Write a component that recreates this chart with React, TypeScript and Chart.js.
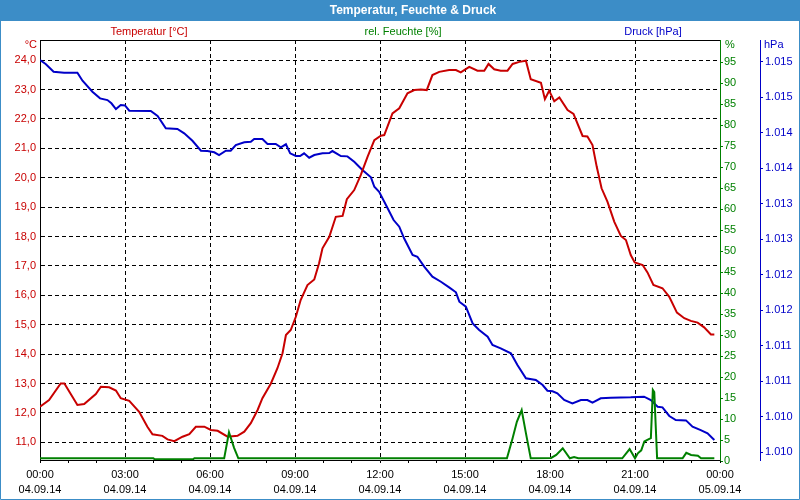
import { useEffect, useRef } from 'react';
import { Chart, registerables } from 'chart.js';

Chart.register(...registerables);

// ---------- data ----------
const tempHours = [0.00, 0.32, 0.73, 0.86, 1.32, 1.56, 1.97, 2.15, 2.44, 2.68, 2.85, 3.15, 3.50, 3.79, 3.97, 4.32, 4.50, 4.74, 5.03, 5.27, 5.50, 5.80, 6.03, 6.27, 6.62, 6.97, 7.21, 7.44, 7.68, 7.85, 8.15, 8.38, 8.56, 8.68, 8.85, 9.03, 9.20, 9.44, 9.68, 9.85, 9.97, 10.21, 10.44, 10.68, 10.83, 11.09, 11.32, 11.56, 11.80, 12.03, 12.15, 12.44, 12.68, 12.97, 13.21, 13.44, 13.65, 13.85, 14.09, 14.44, 14.68, 14.85, 15.15, 15.44, 15.68, 15.83, 16.03, 16.26, 16.50, 16.68, 16.92, 17.15, 17.32, 17.68, 17.82, 17.97, 18.15, 18.33, 18.62, 18.83, 19.15, 19.32, 19.50, 19.65, 19.82, 20.03, 20.27, 20.50, 20.68, 20.85, 20.99, 21.27, 21.44, 21.65, 21.97, 22.21, 22.48, 22.74, 22.97, 23.21, 23.44, 23.68, 23.80];
const tempValues = [12.21, 12.44, 13.00, 13.00, 12.27, 12.30, 12.64, 12.89, 12.87, 12.76, 12.50, 12.41, 12.04, 11.53, 11.27, 11.22, 11.10, 11.04, 11.19, 11.28, 11.53, 11.53, 11.42, 11.39, 11.19, 11.22, 11.36, 11.65, 12.10, 12.50, 13.00, 13.52, 14.03, 14.65, 14.82, 15.27, 15.84, 16.35, 16.54, 17.09, 17.60, 17.99, 18.67, 18.70, 19.27, 19.58, 20.09, 20.71, 21.28, 21.43, 21.45, 22.19, 22.36, 22.87, 22.98, 23.00, 22.98, 23.49, 23.60, 23.66, 23.66, 23.58, 23.77, 23.64, 23.64, 23.87, 23.69, 23.64, 23.64, 23.87, 23.94, 23.98, 23.35, 23.23, 22.67, 22.96, 22.60, 22.73, 22.30, 22.17, 21.42, 21.40, 21.11, 20.37, 19.64, 19.18, 18.50, 18.02, 17.88, 17.37, 17.12, 17.03, 16.78, 16.35, 16.24, 15.95, 15.41, 15.22, 15.13, 15.07, 14.91, 14.67, 14.67];

const pressureHours = [0.00, 0.20, 0.48, 0.85, 1.32, 1.50, 1.85, 2.12, 2.38, 2.52, 2.68, 2.85, 3.00, 3.15, 3.91, 4.15, 4.44, 4.85, 5.09, 5.38, 5.68, 5.91, 6.15, 6.32, 6.56, 6.73, 6.91, 7.21, 7.44, 7.56, 7.85, 8.03, 8.32, 8.50, 8.68, 8.83, 9.03, 9.18, 9.32, 9.50, 9.68, 9.97, 10.21, 10.32, 10.62, 10.85, 11.09, 11.38, 11.68, 11.80, 11.97, 12.21, 12.48, 12.68, 12.85, 13.15, 13.32, 13.56, 13.85, 14.15, 14.44, 14.68, 14.80, 15.03, 15.27, 15.50, 15.80, 15.97, 16.26, 16.62, 16.85, 17.15, 17.50, 17.74, 17.91, 18.09, 18.26, 18.50, 18.79, 19.09, 19.32, 19.50, 19.79, 20.15, 20.85, 21.32, 21.56, 21.80, 21.97, 22.21, 22.44, 22.80, 23.03, 23.32, 23.56, 23.80];
const pressureValues = [1.015024, 1.014968, 1.014859, 1.014845, 1.014845, 1.014732, 1.014577, 1.014484, 1.014460, 1.014414, 1.014334, 1.014390, 1.014385, 1.014310, 1.014306, 1.014235, 1.014062, 1.014052, 1.013991, 1.013887, 1.013746, 1.013742, 1.013724, 1.013686, 1.013746, 1.013746, 1.013827, 1.013865, 1.013873, 1.013911, 1.013911, 1.013841, 1.013841, 1.013794, 1.013837, 1.013710, 1.013672, 1.013672, 1.013710, 1.013648, 1.013686, 1.013710, 1.013714, 1.013742, 1.013672, 1.013667, 1.013592, 1.013475, 1.013372, 1.013239, 1.013169, 1.012982, 1.012770, 1.012676, 1.012513, 1.012277, 1.012253, 1.012113, 1.011972, 1.011901, 1.011822, 1.011752, 1.011620, 1.011549, 1.011315, 1.011221, 1.011127, 1.011010, 1.010963, 1.010893, 1.010728, 1.010541, 1.010517, 1.010446, 1.010366, 1.010357, 1.010329, 1.010235, 1.010188, 1.010235, 1.010235, 1.010197, 1.010259, 1.010268, 1.010273, 1.010282, 1.010235, 1.010141, 1.010132, 1.010010, 1.009953, 1.009948, 1.009859, 1.009812, 1.009766, 1.009672];

const humidityHours = [0.00, 4.00, 4.05, 5.40, 5.45, 6.50, 6.67, 6.85, 7.00, 16.48, 16.68, 16.83, 17.00, 17.15, 17.32, 18.04, 18.22, 18.45, 18.70, 18.85, 19.00, 20.55, 20.81, 21.00, 21.10, 21.22, 21.33, 21.47, 21.56, 21.63, 21.68, 21.78, 22.68, 22.81, 22.98, 23.22, 23.33, 23.80];
const humidityValues = [0.7, 0.7, 0.45, 0.45, 0.7, 0.7, 6.9, 3.2, 0.7, 0.7, 5.5, 9.4, 12.2, 6.7, 0.7, 0.8, 1.5, 3.1, 0.7, 1.0, 0.7, 0.7, 2.9, 0.7, 1.9, 2.6, 4.7, 5.2, 5.5, 17.0, 16.5, 0.7, 0.7, 2.0, 1.5, 1.3, 0.7, 0.7];

// ---------- ticks ----------
const xTickHours = [0, 1, 2, 3, 4, 5, 6, 7, 8, 9, 10, 11, 12, 13, 14, 15, 16, 17, 18, 19, 20, 21, 22, 23, 24];
const xLabelHours = [0, 3, 6, 9, 12, 15, 18, 21, 24];
const xLabelTimes = ['00:00', '03:00', '06:00', '09:00', '12:00', '15:00', '18:00', '21:00', '00:00'];
const xLabelDates = ['04.09.14', '04.09.14', '04.09.14', '04.09.14', '04.09.14', '04.09.14', '04.09.14', '04.09.14', '05.09.14'];
const tempTicks = [11, 12, 13, 14, 15, 16, 17, 18, 19, 20, 21, 22, 23, 24];
const humidityTicks = [0, 5, 10, 15, 20, 25, 30, 35, 40, 45, 50, 55, 60, 65, 70, 75, 80, 85, 90, 95];
const pressureTicks = [1.0095, 1.0100, 1.0105, 1.0110, 1.0115, 1.0120, 1.0125, 1.0130, 1.0135, 1.0140, 1.0145, 1.0150];
const pressureTickLabels = ['1.010', '1.010', '1.011', '1.011', '1.012', '1.012', '1.013', '1.013', '1.014', '1.014', '1.015', '1.015'];

const TITLE = 'Temperatur, Feuchte & Druck';
const HEAD_TEMP = 'Temperatur [°C]';
const HEAD_HUM = 'rel. Feuchte [%]';
const HEAD_PRES = 'Druck [hPa]';

const RED = '#c80000';
const GREEN = '#008000';
const BLUE = '#0000c8';
const BAR = '#3c8dc7';
const FONT = 'Liberation Sans';

const toPts = (hs: number[], vs: number[]) => hs.map((h, i) => ({ x: h, y: vs[i] }));

const decoPlugin = {
  id: 'deco',
  afterDraw(chart: any) {
    const ctx = chart.ctx as CanvasRenderingContext2D;
    const ca = chart.chartArea;
    ctx.save();
    ctx.strokeStyle = '#000';
    ctx.lineWidth = 1;
    ctx.beginPath();
    ctx.moveTo(ca.left, ca.top + 0.5);
    ctx.lineTo(ca.right, ca.top + 0.5);
    ctx.stroke();
    ctx.fillStyle = BAR;
    ctx.fillRect(0, 0, 800, 21);
    ctx.strokeStyle = BAR;
    ctx.beginPath();
    ctx.moveTo(0.5, 0);
    ctx.lineTo(0.5, 499.5);
    ctx.lineTo(799.5, 499.5);
    ctx.lineTo(799.5, 0);
    ctx.stroke();
    ctx.fillStyle = '#ffffff';
    ctx.font = `bold 12px "${FONT}"`;
    ctx.textAlign = 'center';
    ctx.textBaseline = 'middle';
    ctx.fillText(TITLE, 413, 10.5);
    ctx.font = `11px "${FONT}"`;
    ctx.fillStyle = RED;
    ctx.fillText(HEAD_TEMP, 149, 32);
    ctx.fillStyle = GREEN;
    ctx.fillText(HEAD_HUM, 403, 32);
    ctx.fillStyle = BLUE;
    ctx.fillText(HEAD_PRES, 653, 32);
    ctx.textAlign = 'right';
    ctx.fillStyle = RED;
    ctx.fillText('°C', 37, 45);
    ctx.textAlign = 'left';
    ctx.fillStyle = GREEN;
    ctx.fillText('%', 725, 45);
    ctx.fillStyle = BLUE;
    ctx.fillText('hPa', 764, 45);
    ctx.restore();
  },
};

export default function App() {
  const ref = useRef<HTMLCanvasElement | null>(null);

  useEffect(() => {
    if (!ref.current) return;
    Chart.defaults.font.family = FONT;
    Chart.defaults.font.size = 11;
    const chart = new Chart(ref.current, {
      type: 'line',
      data: {
        datasets: [
          {
            label: 'rel. Feuchte',
            data: toPts(humidityHours, humidityValues),
            yAxisID: 'yH',
            borderColor: GREEN,
            borderWidth: 2,
            pointRadius: 0,
            tension: 0,
          },
          {
            label: 'Temperatur',
            data: toPts(tempHours, tempValues),
            yAxisID: 'yT',
            borderColor: RED,
            borderWidth: 2,
            pointRadius: 0,
            tension: 0,
          },
          {
            label: 'Druck',
            data: toPts(pressureHours, pressureValues),
            yAxisID: 'yP',
            borderColor: BLUE,
            borderWidth: 2,
            pointRadius: 0,
            tension: 0,
          },
        ],
      },
      options: {
        animation: false,
        responsive: false,
        maintainAspectRatio: false,
        layout: { padding: { top: 40, left: 0, right: 0, bottom: 0 } },
        plugins: { legend: { display: false }, tooltip: { enabled: false }, title: { display: false } },
        scales: {
          x: {
            type: 'linear',
            position: 'bottom',
            min: 0,
            max: 24,
            afterBuildTicks: (s: any) => {
              s.ticks = xTickHours.map((v) => ({ value: v }));
            },
            afterFit: (s: any) => {
              s.height = 40;
            },
            ticks: {
              autoSkip: false,
              maxRotation: 0,
              minRotation: 0,
              padding: 4,
              color: '#000',
              font: { family: FONT, size: 11, lineHeight: 1.4 },
              callback: (v: any) => {
                const i = xLabelHours.indexOf(Number(v));
                return i >= 0 ? [xLabelTimes[i], xLabelDates[i]] : '';
              },
            },
            grid: {
              color: (c: any) => (c.tick && xLabelHours.includes(c.tick.value) ? '#000' : 'rgba(0,0,0,0)'),
              tickColor: '#000',
              tickLength: 3,
              lineWidth: 1,
            },
            border: { color: '#000', width: 1, dash: [4, 3] },
          },
          yT: {
            type: 'linear',
            position: 'left',
            min: 10.398,
            max: 24.684,
            afterBuildTicks: (s: any) => {
              s.ticks = tempTicks.map((v) => ({ value: v }));
            },
            afterFit: (s: any) => {
              s.width = 40;
            },
            ticks: {
              color: RED,
              padding: 4,
              font: { family: FONT, size: 11 },
              callback: (v: any) => Number(v).toFixed(1).replace('.', ','),
            },
            grid: { color: '#000', drawTicks: false, lineWidth: 1 },
            border: { color: '#000', width: 1, dash: [4, 3] },
          },
          yH: {
            type: 'linear',
            position: 'right',
            weight: 0,
            min: 0.3,
            max: 100.3,
            afterBuildTicks: (s: any) => {
              s.ticks = humidityTicks.map((v) => ({ value: v }));
            },
            afterFit: (s: any) => {
              s.width = 40;
            },
            ticks: {
              color: GREEN,
              padding: 1,
              font: { family: FONT, size: 11 },
              callback: (v: any) => String(v),
            },
            grid: { drawOnChartArea: false, color: GREEN, tickColor: GREEN, tickLength: 3 },
            border: { color: GREEN, width: 1 },
          },
          yP: {
            type: 'linear',
            position: 'right',
            weight: 1,
            min: 1.00939,
            max: 1.015306,
            afterBuildTicks: (s: any) => {
              s.ticks = pressureTicks.map((v) => ({ value: v }));
            },
            afterFit: (s: any) => {
              s.width = 40;
            },
            ticks: {
              color: BLUE,
              padding: 2,
              font: { family: FONT, size: 11 },
              callback: (_v: any, i: number) => pressureTickLabels[i],
            },
            grid: { drawOnChartArea: false, color: BLUE, tickColor: BLUE, tickLength: 3 },
            border: { color: BLUE, width: 1 },
          },
        },
      },
      plugins: [decoPlugin],
    } as any);
    return () => chart.destroy();
  }, []);

  return (
    <div style={{ position: 'fixed', left: 0, top: 0, width: 800, height: 500, background: '#fff' }}>
      <canvas ref={ref} width={800} height={500} style={{ display: 'block' }} />
    </div>
  );
}
